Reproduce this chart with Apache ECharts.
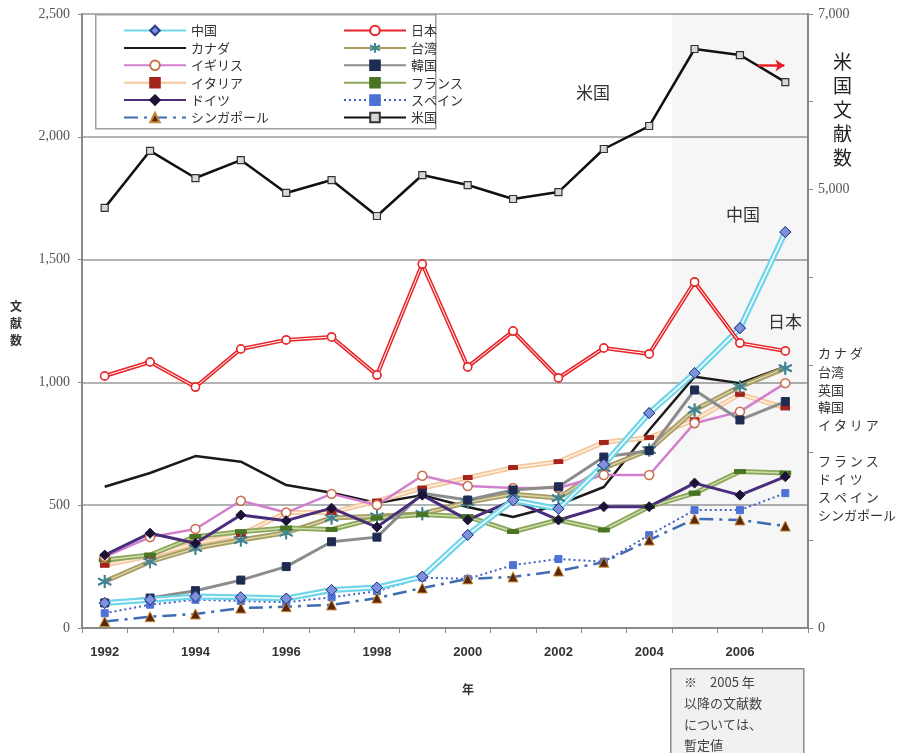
<!DOCTYPE html>
<html><head><meta charset="utf-8">
<script src="https://cdn.jsdelivr.net/npm/echarts@6/dist/echarts.min.js"></script>
<style>html,body{margin:0;padding:0;background:#fff}#c{width:897px;height:753px}</style>
</head><body><div id="c"></div>
<script>
const years = ['1992','1993','1994','1995','1996','1997','1998','1999','2000','2001','2002','2003','2004','2005','2006','2007'];
const china     = [102,115,128,125,120,155,165,209,379,520,485,665,875,1038,1221,1612];
const japan     = [1026,1083,981,1136,1173,1185,1030,1482,1063,1209,1018,1140,1116,1409,1160,1128];
const canada    = [575,631,700,677,582,551,509,541,493,452,501,574,806,1023,997,1064];
const taiwan    = [189,270,325,358,388,448,455,465,512,545,529,651,725,888,983,1058];
const uk        = [290,370,403,518,470,546,501,620,578,570,570,623,623,834,881,997];
const korea     = [102,122,152,195,250,351,370,549,521,562,575,696,722,969,847,922];
const italy     = [256,293,345,380,470,470,517,570,612,653,677,756,775,847,952,896];
const france    = [277,297,372,392,407,401,448,462,453,392,440,399,494,549,637,631];
const germany   = [297,386,345,460,437,488,411,541,440,520,440,494,494,590,541,616];
const spain     = [60,95,115,110,105,125,150,205,200,256,281,270,378,480,480,549];
const singapore = [26,46,57,81,87,94,122,163,200,208,232,268,358,444,440,415];
const usa       = [4790,5440,5130,5335,4960,5107,4697,5164,5050,4891,4970,5461,5723,6601,6532,6224];
const leftTicks = [0,500,1000,1500,2000,2500];
const rightLabelled = [0,5000,7000];
const provisional = [2004.5, 2007.5];
const usaArrow = [[2006.4, 2290],[2006.98, 2290]];

const CJK = '"Noto Sans CJK JP", "Noto Sans", sans-serif';
const asterisk = 'path://M0,-10L0,10M-8.66,-5L8.66,5M-8.66,5L8.66,-5';

function mk(name, data, o) {
  const list = [];
  const base = {
    name, type: 'line', data, yAxisIndex: o.y || 0, xAxisIndex: 0,
    symbol: o.symbol || 'none', symbolSize: o.size || 8, showSymbol: !!o.symbol,
    lineStyle: { color: o.color, width: o.width || 2, type: o.type || 'solid' },
    itemStyle: { color: o.fill || o.color, borderColor: o.border || o.fill || o.color, borderWidth: o.bw || 1 },
    z: 2, silent: true
  };
  list.push(base);
  if (o.inner) {
    list.push({ name, type: 'line', data, yAxisIndex: o.y || 0, symbol: 'none',
      lineStyle: { color: o.inner, width: o.innerW || 1.2 }, z: 2, silent: true });
    if (o.symbol) {
      list.push({ name, type: 'line', data, yAxisIndex: o.y || 0,
        symbol: o.symbol, symbolSize: o.size || 8, lineStyle: { opacity: 0, width: 0 },
        itemStyle: base.itemStyle, z: 2, silent: true });
    }
  }
  return list;
}

const series = [].concat(
  [{ name: 'shade', type: 'line', xAxisIndex: 1, yAxisIndex: 0, data: [], silent: true, z: 1,
     markArea: { silent: true, itemStyle: { color: 'rgba(0,0,0,0.035)' },
       data: [[{ xAxis: provisional[0] }, { xAxis: provisional[1] }]] },
     markLine: { silent: true, symbol: ['none','arrow'], symbolSize: [9,9],
       lineStyle: { color: '#e8202a', width: 2.5, type: 'solid' }, label: { show: false },
       data: [[{ coord: usaArrow[0] }, { coord: usaArrow[1] }]] } }],
  mk('米国', usa, { y: 1, color: '#111', width: 2.5, symbol: 'rect', size: 7, fill: '#d8d8d8', border: '#333', bw: 1.2 }),
  mk('カナダ', canada, { color: '#1a1a1a', width: 2.5 }),
  mk('イタリア', italy, { color: '#f6c69c', width: 5, inner: '#fff1e4', innerW: 1.5, symbol: 'rect', size: [8,4], fill: '#a3241c' }),
  mk('台湾', taiwan, { color: '#a89c62', width: 5, inner: '#d9d3a8', innerW: 1.5, symbol: asterisk, size: 13, fill: '#3f8595', border: '#3f8595', bw: 1.8 }),
  mk('フランス', france, { color: '#8aa658', width: 5, inner: '#cfdcae', innerW: 1.5, symbol: 'rect', size: [10,4], fill: '#4a7424' }),
  mk('イギリス', uk, { color: '#d27fd0', width: 2.5, symbol: 'circle', size: 9, fill: '#ffffff', border: '#c8704c', bw: 1.5 }),
  mk('韓国', korea, { color: '#8c8c8c', width: 3, symbol: 'rect', size: 8, fill: '#1f2c52' }),
  mk('ドイツ', germany, { color: '#4a2e7c', width: 3, symbol: 'diamond', size: 10, fill: '#1c1236' }),
  mk('スペイン', spain, { color: '#4262c4', width: 2, type: [2,3], symbol: 'rect', size: 7, fill: '#4d72d6' }),
  mk('シンガポール', singapore, { color: '#3f6db0', width: 2.5, type: [14,6,3,6], symbol: 'triangle', size: 10, fill: '#5a2808', border: '#c98a3a', bw: 1 }),
  mk('中国', china, { color: '#6fd6ea', width: 6, inner: '#ffffff', innerW: 1.5, symbol: 'diamond', size: 11, fill: '#7d92da', border: '#2c3a88', bw: 1 }),
  mk('日本', japan, { color: '#e8262a', width: 4, inner: '#ffffff', innerW: 1, symbol: 'circle', size: 8, fill: '#ffffff', border: '#e8262a', bw: 1.5 })
);

const legendCommon = { orient: 'vertical', top: 19, itemWidth: 62, itemHeight: 12, itemGap: 4.4,
  textStyle: { fontFamily: CJK, fontSize: 13, color: '#333' }, selectedMode: false, z: 6 };

const txt = (x, y, s, size, extra) => Object.assign({ type: 'text', left: x, top: y, z: 10,
  style: { text: s, font: (size || 13) + 'px ' + CJK, fill: '#333' } }, extra || {});

const chart = echarts.init(document.getElementById('c'), null, { renderer: 'canvas' });
chart.setOption({
  animation: false,
  backgroundColor: '#fff',
  grid: { left: 82, right: 89, top: 14, bottom: 125 },
  xAxis: [
    { type: 'category', data: years, boundaryGap: true,
      axisLine: { lineStyle: { color: '#8a8a8a', width: 2 } },
      axisTick: { show: true, interval: 0, length: 5, lineStyle: { color: '#8a8a8a' } },
      axisLabel: { interval: 1, margin: 18, fontFamily: 'Liberation Sans, Arial, sans-serif', fontSize: 13, fontWeight: 'bold', color: '#333' } },
    { type: 'value', min: 1991.5, max: 2007.5, show: false }
  ],
  yAxis: [
    { type: 'value', min: leftTicks[0], max: leftTicks[leftTicks.length-1], interval: 500,
      axisLine: { show: true, lineStyle: { color: '#8a8a8a', width: 2 } },
      axisTick: { show: true, length: 4, lineStyle: { color: '#8a8a8a' } },
      splitLine: { show: true, lineStyle: { color: '#9a9a9a', width: 1.5 } },
      axisLabel: { margin: 12, fontFamily: '"Liberation Serif", serif', fontSize: 14, color: '#555',
        formatter: v => v.toLocaleString('en-US') } },
    { type: 'value', min: 0, max: 7000, interval: 1000, position: 'right',
      axisLine: { show: true, lineStyle: { color: '#8a8a8a', width: 2 } },
      axisTick: { show: true, length: 5, lineStyle: { color: '#8a8a8a' } },
      splitLine: { show: false },
      axisLabel: { margin: 10, fontFamily: '"Liberation Serif", serif', fontSize: 14, color: '#555',
        formatter: v => rightLabelled.includes(v) ? v.toLocaleString('en-US') : '' } }
  ],
  legend: [
    Object.assign({ left: 118, data: ['中国', { name: 'カナダ', itemStyle: { opacity: 0 } }, 'イギリス','イタリア','ドイツ','シンガポール'] }, legendCommon),
    Object.assign({ left: 338, data: ['日本','台湾','韓国','フランス','スペイン','米国'] }, legendCommon)
  ],
  graphic: [
    { type: 'rect', left: 95, top: 14, shape: { width: 340, height: 114 }, z: 5,
      style: { fill: '#fff', stroke: '#a0a0a0', lineWidth: 1.5 } },
    txt(10, 298, '文\n献\n数', 12, { style: { text: '文\n献\n数', font: 'bold 12px ' + CJK, fill: '#333', lineHeight: 17 } }),
    txt(462, 683, '年', 12, { style: { text: '年', font: 'bold 12px ' + CJK, fill: '#333' } }),
    txt(833, 50, '米\n国\n文\n献\n数', 19, { style: { text: '米\n国\n文\n献\n数', font: '19px ' + CJK, fill: '#222', lineHeight: 24 } }),
    txt(576, 84, '米国', 17),
    txt(726, 206, '中国', 17),
    txt(768, 313, '日本', 17),
    txt(818, 347, 'カナダ', 13, { style: { text: 'カ ナ ダ', font: '13px ' + CJK, fill: '#333' } }),
    txt(818, 366, '台湾', 13),
    txt(818, 384, '英国', 13),
    txt(818, 401, '韓国', 13),
    txt(818, 419, 'イタリア', 13, { style: { text: 'イ タ リ ア', font: '13px ' + CJK, fill: '#333' } }),
    txt(818, 455, 'フランス', 13, { style: { text: 'フ ラ ン ス', font: '13px ' + CJK, fill: '#333' } }),
    txt(818, 473, 'ドイツ', 13, { style: { text: 'ド イ ツ', font: '13px ' + CJK, fill: '#333' } }),
    txt(818, 491, 'スペイン', 13, { style: { text: 'ス ペ イ ン', font: '13px ' + CJK, fill: '#333' } }),
    txt(818, 509, 'シンガポール', 13),
    { type: 'rect', left: 670, top: 668, shape: { width: 133, height: 90 }, z: 9,
      style: { fill: '#f1f1f1', stroke: '#8a8a8a', lineWidth: 1.5 } },
    txt(684, 672, '※　2005 年\n以降の文献数\nについては、\n暫定値', 13,
      { style: { text: '※　2005 年\n以降の文献数\nについては、\n暫定値', font: '13px ' + CJK, fill: '#444', lineHeight: 21 } })
  ],
  series
});
</script></body></html>
